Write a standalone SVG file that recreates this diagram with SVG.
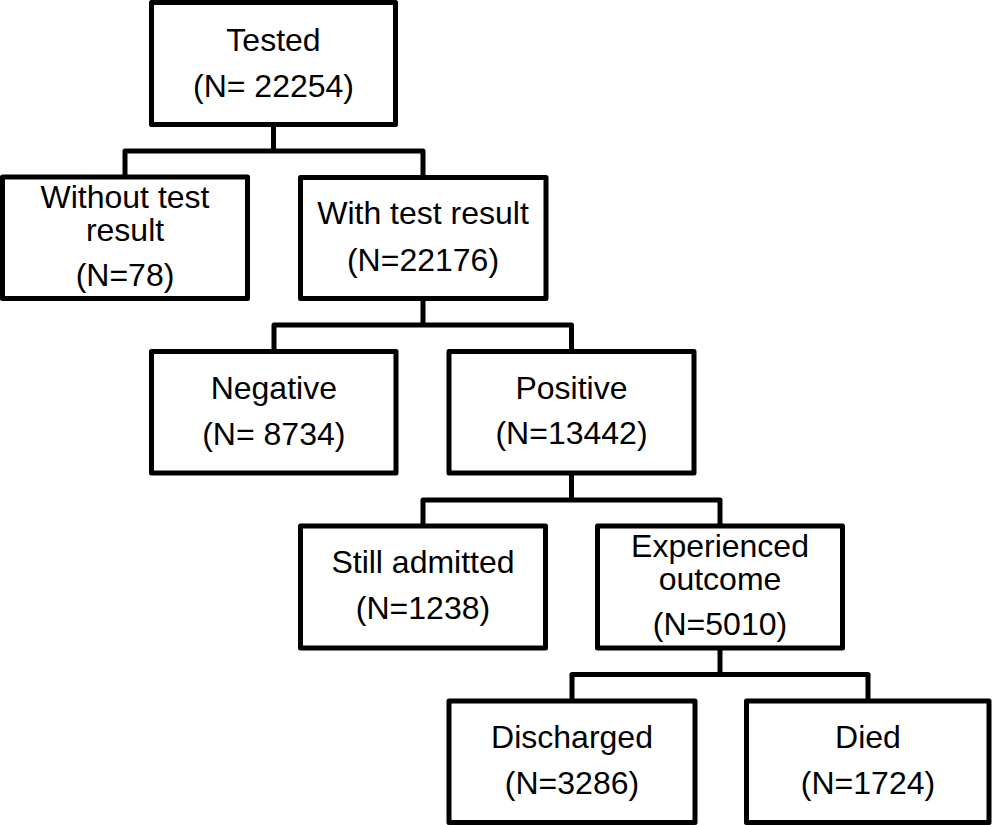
<svg xmlns="http://www.w3.org/2000/svg" width="992" height="825" viewBox="0 0 992 825">
<style>
.box{fill:#fff;stroke:#000;stroke-width:5;stroke-linejoin:round}
.con{fill:none;stroke:#000;stroke-width:5;stroke-linejoin:round}
text{font-family:"Liberation Sans",Arial,sans-serif;font-size:32px;fill:#000;text-anchor:middle}
</style>
<rect width="992" height="825" fill="#fff"/>
<g id="connectors">
<path class="con" d="M273.5,124.5 V151 M125,177 V151 H423 V177"/>
<path class="con" d="M423,298.5 V325 M274,351.5 V325 H571.5 V351.5"/>
<path class="con" d="M571.5,473 V500 M423,526 V500 H720 V526"/>
<path class="con" d="M720,648 V674.5 M572,701 V674.5 H868 V701"/>
</g>
<g id="tested">
<rect class="box" x="151.5" y="2.5" width="244" height="122"/>
<text x="273.5" y="50.5">Tested</text>
<text x="273.5" y="96.5">(N= 22254)</text>
</g>
<g id="without">
<rect class="box" x="2.5" y="177" width="245" height="121.5"/>
<text x="125" y="208.3">Without test</text>
<text x="125" y="240.5">result</text>
<text x="125" y="285.7">(N=78)</text>
</g>
<g id="with">
<rect class="box" x="300.5" y="177.5" width="245.5" height="121"/>
<text x="423" y="224.3">With test result</text>
<text x="423" y="271.3">(N=22176)</text>
</g>
<g id="negative">
<rect class="box" x="151.5" y="351.5" width="244.5" height="121.5"/>
<text x="273.8" y="399">Negative</text>
<text x="273.8" y="445">(N= 8734)</text>
</g>
<g id="positive">
<rect class="box" x="449" y="351.5" width="245" height="121.5"/>
<text x="571.5" y="398.5">Positive</text>
<text x="571.5" y="444">(N=13442)</text>
</g>
<g id="still">
<rect class="box" x="300.5" y="526" width="245" height="122"/>
<text x="423" y="573.3">Still admitted</text>
<text x="423" y="618.5">(N=1238)</text>
</g>
<g id="experienced">
<rect class="box" x="597.5" y="526" width="245" height="122"/>
<text x="720" y="556.7">Experienced</text>
<text x="720" y="589.5">outcome</text>
<text x="720" y="635">(N=5010)</text>
</g>
<g id="discharged">
<rect class="box" x="449" y="701" width="246" height="121.5"/>
<text x="572" y="748.3">Discharged</text>
<text x="572" y="793.5">(N=3286)</text>
</g>
<g id="died">
<rect class="box" x="746.5" y="701" width="242.5" height="121.5"/>
<text x="868" y="748.3">Died</text>
<text x="868" y="793.5">(N=1724)</text>
</g>
</svg>
